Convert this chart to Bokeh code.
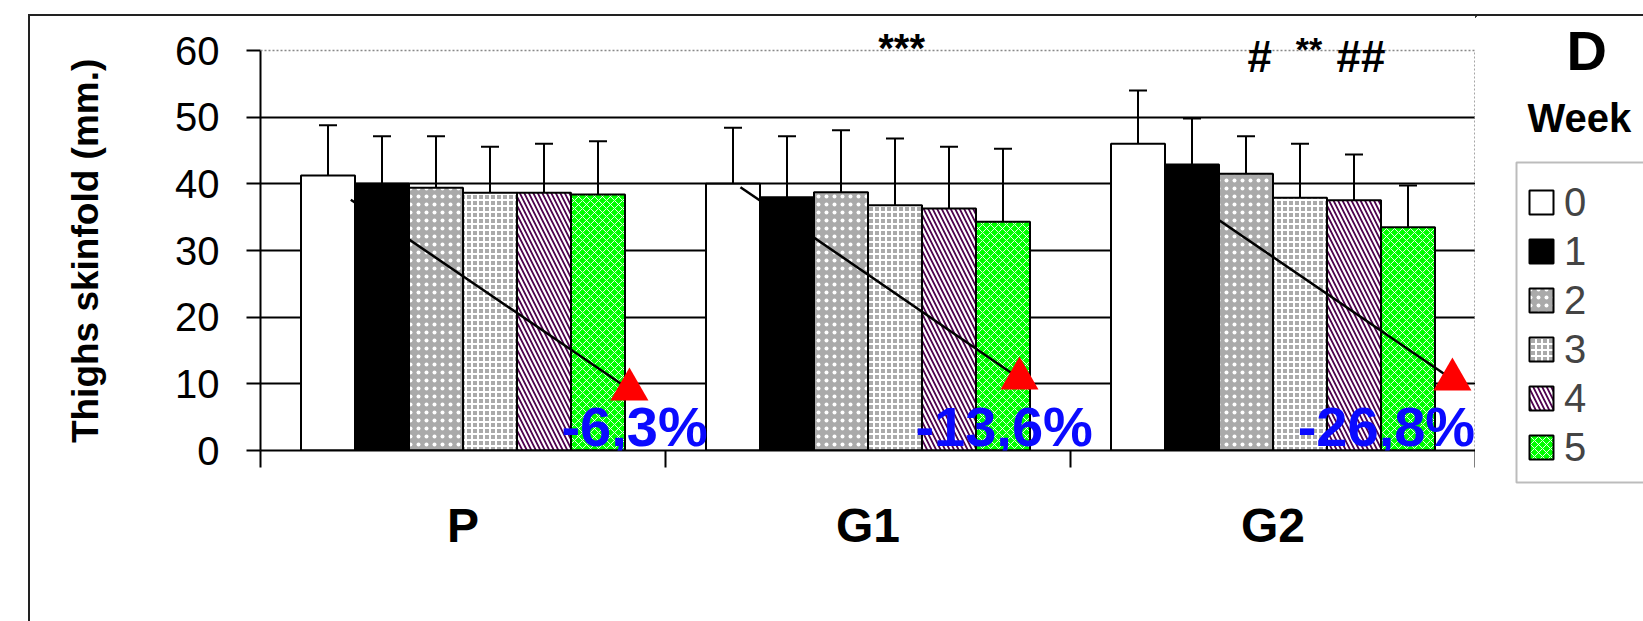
from bokeh.plotting import figure
from bokeh.layouts import row
from bokeh.models import Range1d, FixedTicker, Label, BoxAnnotation, Legend, LegendItem, Span
from bokeh.embed import file_html
from bokeh.resources import INLINE

# ---------------- data ----------------
groups = ["P", "G1", "G2"]
weeks = ["0", "1", "2", "3", "4", "5"]

p_mean = [41.25, 40.0, 39.4, 38.65, 38.65, 38.4]
g1_mean = [40.0, 38.0, 38.75, 36.8, 36.3, 34.3]
g2_mean = [46.0, 42.9, 41.5, 37.9, 37.55, 33.5]

p_sd = [7.55, 7.15, 7.75, 6.9, 7.35, 8.0]
g1_sd = [8.4, 9.15, 9.3, 10.0, 9.25, 10.95]
g2_sd = [8.0, 6.9, 5.65, 8.1, 6.85, 6.25]

pct_labels = ["-6,3%", "-13,6%", "-26,8%"]
trend_start = [37.6, 39.5, 40.1]
trend_end = [9.15, 10.8, 10.65]

sig_g1 = ["***"]
sig_g2 = ["#", "**", "##"]

y_ticks = [0, 10, 20, 30, 40, 50, 60]
y_title = "Thighs skinfold (mm.)"

means = [p_mean, g1_mean, g2_mean]
sds = [p_sd, g1_sd, g2_sd]

# ---------------- style ----------------
FONT = "Liberation Sans"
fills = ["white", "black", "#aaaaaa", "#aaaaaa", "#4e004e", "#00ff00"]
hatches = [None, None, "dot", "cross", "left_diagonal_line", "diagonal_cross"]
hscale = [8, 8, 8, 6, 9, 8]
hweight = [1, 1, 2, 2, 2.2, 0.9]
SHIFT = 0.4   # label baseline correction (em)

# page geometry (screen px); wrapper border starts at (28, 14), content at (30, 16)
OX, OY = 30, 16
F_LEFT, F_RIGHT, F_TOP, F_BOTTOM = 260, 1475, 20, 450
PX_PER_UNIT = 400 / 60
HGT = 621 - OY
WM = F_RIGHT - OX
WS = 1643 - F_RIGHT
YMAX = 60 + (450 - F_TOP - 400) / PX_PER_UNIT

p = figure(width=WM, height=HGT, output_backend="svg", toolbar_location=None,
           x_range=Range1d(0, 3), y_range=Range1d(0, YMAX),
           min_border_left=F_LEFT - OX, min_border_right=0,
           min_border_top=F_TOP - OY, min_border_bottom=OY + HGT - F_BOTTOM)
p.background_fill_color = "white"
p.border_fill_color = "white"
p.outline_line_color = None

p.xgrid.visible = False
p.ygrid.ticker = FixedTicker(ticks=y_ticks[1:-1])
p.ygrid.grid_line_color = "black"
p.ygrid.grid_line_width = 2

# dotted top / right border of the plot area
p.add_layout(Span(location=y_ticks[-1], dimension="width", line_color="#888888",
                  line_dash="2 2", line_width=1.5))
p.segment(x0=[3], y0=[0], x1=[3], y1=[y_ticks[-1]], line_color="#888888",
          line_dash="2 2", line_width=2.5)

ya = p.yaxis[0]
ya.bounds = (0, 60)
ya.ticker = FixedTicker(ticks=y_ticks, minor_ticks=[])
ya.axis_line_width = 2
ya.major_tick_line_width = 2
ya.major_tick_out = 14
ya.major_tick_in = 0
ya.minor_tick_out = 0
ya.minor_tick_in = 0
ya.major_label_text_font = FONT
ya.major_label_text_font_size = "40px"
ya.major_label_text_color = "black"
ya.major_label_standoff = 27
# trailing no-break spaces centre the title on the 0-60 part of the axis
ya.axis_label = y_title + "\u00a0" * 3
ya.axis_label_text_font = FONT
ya.axis_label_text_font_style = "bold"
ya.axis_label_text_font_size = "37px"
ya.axis_label_text_color = "black"
ya.axis_label_standoff = 66

xa = p.xaxis[0]
centers = [i + 0.5 for i in range(len(groups))]
bounds = [float(i) for i in range(len(groups) + 1)]
xa.ticker = FixedTicker(ticks=centers, minor_ticks=bounds)
ov = {}
for c, g in zip(centers, groups):
    ov[c] = g
    ov[str(c)] = g
xa.major_label_overrides = ov
xa.axis_line_width = 2
xa.major_tick_out = 0
xa.major_tick_in = 0
xa.major_tick_line_color = None
xa.minor_tick_out = 17
xa.minor_tick_in = 0
xa.minor_tick_line_width = 2
xa.minor_tick_line_color = "black"
xa.major_label_text_font = FONT
xa.major_label_text_font_style = "bold"
xa.major_label_text_font_size = "48px"
xa.major_label_text_color = "black"
xa.major_label_standoff = 31

# ---------------- bars ----------------
bw = 1 / 7.5
bar_styles = []
for k, wk in enumerate(weeks):
    xs = [g + 0.1 + (k + 0.5) * bw for g in range(len(groups))]
    tops = [means[g][k] for g in range(len(groups))]
    ups = [means[g][k] + sds[g][k] for g in range(len(groups))]
    kw = dict(fill_color=fills[k], line_color="black", line_width=2)
    if hatches[k]:
        kw.update(hatch_pattern=hatches[k], hatch_color="white",
                  hatch_scale=hscale[k], hatch_weight=hweight[k])
    bar_styles.append(kw)
    p.vbar(x=xs, top=tops, bottom=0, width=bw, **kw)
    cap = 9 / 405
    p.segment(x0=xs, y0=tops, x1=xs, y1=ups, line_color="black", line_width=2)
    p.segment(x0=[x - cap for x in xs], y0=ups, x1=[x + cap for x in xs], y1=ups,
              line_color="black", line_width=2)

# ---------------- trend arrows ----------------
start_off = [0.223, 0.185, 0.233]
end_off = [0.911, 0.874, 0.943]
tx0 = [g + o for g, o in zip(range(3), start_off)]
tx1 = [g + o for g, o in zip(range(3), end_off)]
p.segment(x0=tx0, y0=trend_start, x1=tx1, y1=trend_end, line_color="black", line_width=2.5)
p.scatter(x=tx1, y=trend_end, marker="triangle", size=38, angle=0,
          fill_color="#ff0000", line_color=None)


def data_label(fig, x, y, text, size, **kw):
    """Label whose baseline lands at y (data units)."""
    fig.add_layout(Label(x=x, y=y + SHIFT * size / PX_PER_UNIT, text=text, text_font=FONT,
                         text_font_style="bold", text_font_size=f"{size}px",
                         text_baseline="alphabetic", **kw))


# ---------------- annotations ----------------
pct_off = [0.743, 0.617, 0.561]
for g, (t, o) in enumerate(zip(pct_labels, pct_off)):
    data_label(p, g + o, 0.3, t, 56, text_color="#0a0aff", text_align="left")

data_label(p, 1.583, 58.0, sig_g1[0], 40, text_color="black", text_align="center")
for t, xo, fs, yb in zip(sig_g2, [2.437, 2.556, 2.657], [44, 34, 44], [56.4, 58.2, 56.4]):
    data_label(p, xo, yb, t, fs, text_color="black", text_align="left")

# ---------------- side panel: panel letter, legend ----------------
s = figure(width=WS, height=HGT, output_backend="svg", toolbar_location=None,
           x_range=Range1d(F_RIGHT, 1643), y_range=Range1d(621, OY),
           x_axis_location=None, y_axis_location=None,
           min_border_left=0, min_border_right=0, min_border_top=0, min_border_bottom=0)
s.outline_line_color = None
s.grid.visible = False
s.background_fill_color = "white"
s.border_fill_color = "white"
try:
    p.frame_align = False
    s.frame_align = False
except AttributeError:
    pass


def px_label(fig, x, y, text, size):
    fig.add_layout(Label(x=x, y=y - SHIFT * size, text=text, text_font=FONT,
                         text_font_style="bold", text_font_size=f"{size}px",
                         text_color="black", text_baseline="alphabetic"))


px_label(s, 1566, 72, "D", 56)
px_label(s, 1527, 133, "Week", 40)
s.add_layout(BoxAnnotation(left=1516, right=1800, top=162, bottom=482,
                           fill_color=None, line_color="#222222", line_width=2))

leg_rends = []
for k in range(len(weeks)):
    leg_rends.append(s.vbar(x=[-100], top=[-100], bottom=-101, width=1, **bar_styles[k]))
legend = Legend(items=[LegendItem(label=w, renderers=[r]) for w, r in zip(weeks, leg_rends)],
                location=(51, 151), orientation="vertical",
                glyph_width=30, glyph_height=30, label_standoff=8,
                label_text_font=FONT, label_text_font_size="40px",
                label_height=46, spacing=3, padding=0, margin=0,
                border_line_color=None, background_fill_alpha=0)
s.add_layout(legend)

lay = row(p, s, margin=(14, 0, 0, 28),
          styles={"border-left": "2px solid #222222", "border-top": "2px solid #222222"})

open("out.html", "w").write(file_html(lay, INLINE))
